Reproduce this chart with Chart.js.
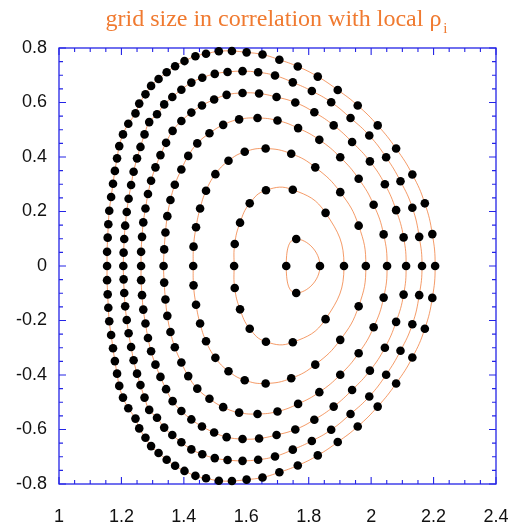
<!DOCTYPE html>
<html>
<head>
<meta charset="utf-8">
<script src="https://cdn.jsdelivr.net/npm/chart.js@4.4.0/dist/chart.umd.min.js"></script>
<style>
  html, body { margin: 0; padding: 0; background: #ffffff; overflow: hidden; }
  #wrap { width: 513px; height: 531px; }
</style>
</head>
<body>
<div id="wrap"><canvas id="c" width="513" height="531"></canvas></div>
<script>
// Grid points on nested flux surfaces (R, Z), innermost first.
const surface1 = [[1.728,0],[1.760,0.099],[1.836,0],[1.760,-0.099]];

const surface2 = [[1.561,0],[1.563,0.081],[1.580,0.159],[1.611,0.230],[1.663,0.278],[1.749,0.280],[1.854,0.195],[1.913,0],
  [1.854,-0.195],[1.749,-0.280],[1.663,-0.278],[1.611,-0.230],[1.580,-0.159],[1.563,-0.081]];

const surface3 = [[1.430,0],[1.431,0.071],[1.439,0.142],[1.452,0.211],[1.471,0.276],[1.501,0.337],[1.543,0.386],[1.595,0.419],
  [1.662,0.431],[1.744,0.412],[1.821,0.362],[1.901,0.271],[1.960,0.148],[1.983,0],
  [1.960,-0.148],[1.901,-0.271],[1.821,-0.362],[1.744,-0.412],[1.662,-0.431],[1.595,-0.419],[1.543,-0.386],[1.501,-0.337],
  [1.471,-0.276],[1.452,-0.211],[1.439,-0.142],[1.431,-0.071]];

const surface4 = [[1.335,0],[1.337,0.061],[1.341,0.123],[1.347,0.183],[1.357,0.242],[1.371,0.298],[1.392,0.354],[1.414,0.404],
  [1.443,0.450],[1.482,0.487],[1.526,0.518],[1.577,0.538],[1.636,0.543],[1.700,0.534],[1.766,0.506],[1.834,0.463],
  [1.901,0.399],[1.960,0.320],[2.008,0.225],[2.040,0.116],[2.051,0],
  [2.040,-0.116],[2.008,-0.225],[1.960,-0.320],[1.901,-0.399],[1.834,-0.463],[1.766,-0.506],[1.700,-0.534],[1.636,-0.543],
  [1.577,-0.538],[1.526,-0.518],[1.482,-0.487],[1.443,-0.450],[1.414,-0.404],[1.392,-0.354],[1.371,-0.298],[1.357,-0.242],
  [1.347,-0.183],[1.341,-0.123],[1.337,-0.061]];

const surface5 = [[1.263,0],[1.263,0.052],[1.266,0.107],[1.270,0.160],[1.277,0.211],[1.285,0.264],[1.295,0.313],[1.309,0.362],
  [1.325,0.407],[1.343,0.452],[1.364,0.496],[1.392,0.532],[1.424,0.563],[1.458,0.589],[1.497,0.611],[1.537,0.628],
  [1.588,0.635],[1.641,0.633],[1.697,0.620],[1.757,0.600],[1.818,0.564],[1.880,0.516],[1.939,0.455],[1.996,0.384],
  [2.044,0.300],[2.080,0.205],[2.104,0.105],[2.112,0],
  [2.104,-0.105],[2.080,-0.205],[2.044,-0.300],[1.996,-0.384],[1.939,-0.455],[1.880,-0.516],[1.818,-0.564],[1.757,-0.600],
  [1.697,-0.620],[1.641,-0.633],[1.588,-0.635],[1.537,-0.628],[1.497,-0.611],[1.458,-0.589],[1.424,-0.563],[1.392,-0.532],
  [1.364,-0.496],[1.343,-0.452],[1.325,-0.407],[1.309,-0.362],[1.295,-0.313],[1.285,-0.264],[1.277,-0.211],[1.270,-0.160],
  [1.266,-0.107],[1.263,-0.052]];

const surface6 = [[1.206,0],[1.207,0.049],[1.209,0.099],[1.212,0.148],[1.217,0.198],[1.223,0.247],[1.231,0.297],[1.239,0.346],
  [1.250,0.395],[1.261,0.437],[1.274,0.483],[1.289,0.528],[1.314,0.557],[1.337,0.593],[1.363,0.620],[1.392,0.647],
  [1.424,0.673],[1.459,0.691],[1.499,0.705],[1.540,0.712],[1.588,0.715],[1.638,0.711],[1.692,0.699],[1.749,0.674],
  [1.810,0.642],[1.872,0.601],[1.934,0.543],[1.994,0.479],[2.048,0.399],[2.094,0.311],[2.132,0.214],[2.154,0.107],[2.163,0],
  [2.154,-0.107],[2.132,-0.214],[2.094,-0.311],[2.048,-0.399],[1.994,-0.479],[1.934,-0.543],[1.872,-0.601],[1.810,-0.642],
  [1.749,-0.674],[1.692,-0.699],[1.638,-0.711],[1.588,-0.715],[1.540,-0.712],[1.499,-0.705],[1.459,-0.691],[1.424,-0.673],
  [1.392,-0.647],[1.363,-0.620],[1.337,-0.593],[1.314,-0.557],[1.289,-0.528],[1.274,-0.483],[1.261,-0.437],[1.250,-0.395],
  [1.239,-0.346],[1.231,-0.297],[1.223,-0.247],[1.217,-0.198],[1.212,-0.148],[1.209,-0.099],[1.207,-0.049]];

const surface7 = [[1.154,0],[1.154,0.052],[1.156,0.104],[1.158,0.153],[1.161,0.203],[1.167,0.253],[1.173,0.302],[1.179,0.349],
  [1.186,0.395],[1.193,0.440],[1.205,0.483],[1.222,0.522],[1.245,0.560],[1.257,0.596],[1.277,0.630],[1.295,0.661],
  [1.319,0.686],[1.345,0.711],[1.372,0.733],[1.402,0.752],[1.437,0.770],[1.471,0.779],[1.512,0.788],[1.554,0.789],
  [1.601,0.784],[1.652,0.776],[1.706,0.757],[1.765,0.732],[1.829,0.695],[1.893,0.646],[1.957,0.589],[2.021,0.516],
  [2.080,0.431],[2.132,0.336],[2.172,0.230],[2.196,0.117],[2.205,0],
  [2.196,-0.117],[2.172,-0.230],[2.132,-0.336],[2.080,-0.431],[2.021,-0.516],[1.957,-0.589],[1.893,-0.646],[1.829,-0.695],
  [1.765,-0.732],[1.706,-0.757],[1.652,-0.776],[1.601,-0.784],[1.554,-0.789],[1.512,-0.788],[1.471,-0.779],[1.437,-0.770],
  [1.402,-0.752],[1.372,-0.733],[1.345,-0.711],[1.319,-0.686],[1.295,-0.661],[1.277,-0.630],[1.257,-0.596],[1.245,-0.560],
  [1.222,-0.522],[1.205,-0.483],[1.193,-0.440],[1.186,-0.395],[1.179,-0.349],[1.173,-0.302],[1.167,-0.253],[1.161,-0.203],
  [1.158,-0.153],[1.156,-0.104],[1.154,-0.052]];

const surfaces = [surface1, surface2, surface3, surface4, surface5, surface6, surface7];

// Axis range and tick labels
const xRange = [1, 2.4];
const yRange = [-0.8, 0.8];
const xTickLabels = ['1', '1.2', '1.4', '1.6', '1.8', '2', '2.2', '2.4'];
const yTickLabels = ['-0.8', '-0.6', '-0.4', '-0.2', '0', '0.2', '0.4', '0.6', '0.8'];

const titleText = 'grid size in correlation with local \u03C1';
const titleSub = 'i';

const curveColor = 'rgba(240,115,45,0.8)';
const frameColor = '#2424e6';
const titleColor = '#f07a30';

const toXY = p => ({ x: p[0], y: p[1] });

// Closed smooth curve: wrap one point on each side so every drawn segment
// gets proper neighbours for its spline control points, then hide the two
// helper segments at the ends.
function closedCurve(pts, tension) {
  const n = pts.length;
  const data = [pts[n - 1], ...pts, pts[0], pts[1]].map(toXY);
  const last = data.length - 2;
  return {
    type: 'scatter',
    data,
    showLine: true,
    tension,
    borderColor: curveColor,
    borderWidth: 0.9,
    pointRadius: 0,
    pointHoverRadius: 0,
    fill: false,
    clip: false,
    order: 2,
    segment: {
      borderColor: ctx => (ctx.p0DataIndex === 0 || ctx.p0DataIndex === last) ? 'rgba(0,0,0,0)' : curveColor
    }
  };
}

const datasets = [];
surfaces.forEach((s, i) => datasets.push(closedCurve(s, i === 0 ? 0.55 : 0.45)));
surfaces.forEach(s => datasets.push({
  type: 'scatter',
  data: s.map(toXY),
  showLine: false,
  pointRadius: 4.3,
  pointHoverRadius: 4.3,
  pointBackgroundColor: '#000000',
  pointBorderColor: '#000000',
  pointBorderWidth: 0,
  clip: false,
  order: 1
}));

// Box frame with inward major/minor ticks on all four sides,
// placed from the scales themselves.
const framePlugin = {
  id: 'frameTicks',
  beforeDatasetsDraw(chart) {
    const { ctx, scales } = chart;
    const L = scales.x.getPixelForValue(xRange[0]);
    const R = scales.x.getPixelForValue(xRange[1]);
    const T = scales.y.getPixelForValue(yRange[1]);
    const B = scales.y.getPixelForValue(yRange[0]);
    ctx.save();
    ctx.strokeStyle = frameColor;
    ctx.lineWidth = 1.3;
    ctx.strokeRect(L, T, R - L, B - T);
    ctx.lineWidth = 1.1;
    ctx.beginPath();
    for (let i = 0; i <= 28; i++) {
      const px = scales.x.getPixelForValue(xRange[0] + i * 0.05);
      const len = i % 4 === 0 ? 7 : 4;
      ctx.moveTo(px, B); ctx.lineTo(px, B - len);
      ctx.moveTo(px, T); ctx.lineTo(px, T + len);
    }
    for (let i = 0; i <= 32; i++) {
      const py = scales.y.getPixelForValue(yRange[0] + i * 0.05);
      const len = i % 4 === 0 ? 7 : 4;
      ctx.moveTo(L, py); ctx.lineTo(L + len, py);
      ctx.moveTo(R, py); ctx.lineTo(R - len, py);
    }
    ctx.stroke();
    ctx.restore();
  }
};

// Title with a subscript.
const titlePlugin = {
  id: 'plotTitle',
  afterDraw(chart) {
    const { ctx, scales } = chart;
    ctx.save();
    ctx.fillStyle = titleColor;
    ctx.textBaseline = 'alphabetic';
    ctx.textAlign = 'left';
    const mainFont = '24px "Liberation Serif", "Times New Roman", serif';
    const subFont = '15px "Liberation Serif", "Times New Roman", serif';
    ctx.font = mainFont;
    const w1 = ctx.measureText(titleText).width;
    ctx.font = subFont;
    const w2 = ctx.measureText(titleSub).width;
    const cx = (scales.x.getPixelForValue(xRange[0]) + scales.x.getPixelForValue(xRange[1])) / 2 - 1;
    const x0 = cx - (w1 + 2 + w2) / 2;
    ctx.font = mainFont;
    ctx.fillText(titleText, x0, 26);
    ctx.font = subFont;
    ctx.fillText(titleSub, x0 + w1 + 2, 33);
    ctx.restore();
  }
};

const tickFont = { family: '"Liberation Sans", Arial, sans-serif', size: 18 };

new Chart(document.getElementById('c'), {
  type: 'scatter',
  data: { datasets },
  options: {
    responsive: false,
    animation: false,
    events: [],
    layout: { autoPadding: false, padding: { top: 48, right: 17, left: 0, bottom: 0 } },
    plugins: { legend: { display: false }, tooltip: { enabled: false }, title: { display: false } },
    scales: {
      x: {
        type: 'linear', min: xRange[0], max: xRange[1],
        grid: { display: false, drawTicks: false },
        border: { display: false },
        afterFit: s => { s.height = 47; s.paddingLeft = 0; s.paddingRight = 0; },
        ticks: {
          stepSize: 0.2, autoSkip: false, maxRotation: 0, padding: 22,
          color: '#111111', font: tickFont,
          callback: (v, i) => xTickLabels[i]
        }
      },
      y: {
        type: 'linear', min: yRange[0], max: yRange[1],
        grid: { display: false, drawTicks: false },
        border: { display: false },
        afterFit: s => { s.width = 59; s.paddingTop = 0; s.paddingBottom = 0; },
        ticks: {
          stepSize: 0.2, autoSkip: false, padding: 12,
          color: '#111111', font: tickFont,
          callback: (v, i) => yTickLabels[i]
        }
      }
    }
  },
  plugins: [framePlugin, titlePlugin]
});
</script>
</body>
</html>
